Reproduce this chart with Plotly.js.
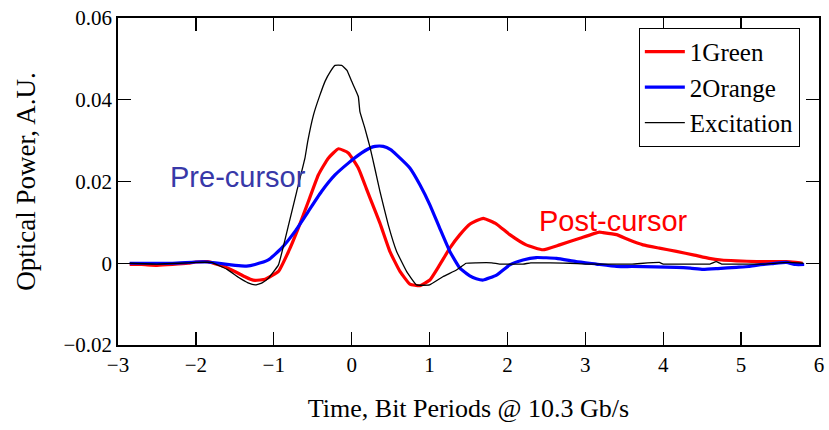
<!DOCTYPE html>
<html>
<head>
<meta charset="utf-8">
<script src="https://cdn.plot.ly/plotly-3.0.1.min.js"></script>
<style>html,body{margin:0;padding:0;background:#fff;}#chart{width:829px;height:430px;}</style>
</head>
<body>
<div id="chart"></div>
<script>
// Excitation (black)
const excX = [-2.85,-2.5,-2.2,-2.0,-1.8,-1.6,-1.45,-1.33,-1.24,-1.15,-1.07,-0.94,-0.81,-0.705,-0.6,-0.564,-0.49,-0.41,-0.342,-0.27,-0.214,-0.128,-0.06,0.0,0.085,0.106,0.17,0.235,0.3,0.363,0.47,0.577,0.705,0.833,1.0,1.17,1.35,1.47,1.6,1.8,1.9,2.2,2.3,2.8,3.0,3.3,3.6,3.95,4.0,4.3,4.6,4.68,4.75,5.0,5.3,5.6,5.8];
const excY = [0,-0.0002,0,0.0002,0.0002,-0.0015,-0.0035,-0.0048,-0.0053,-0.0048,-0.0037,-0.0004,0.0094,0.0176,0.0257,0.0298,0.0363,0.041,0.0445,0.047,0.0484,0.0484,0.0472,0.0445,0.0408,0.0371,0.033,0.0284,0.023,0.0176,0.0094,0.0029,-0.002,-0.0053,-0.0053,-0.0033,-0.0016,0,0.0001,0.0001,-0.0002,-0.0002,0.0001,0,-0.0002,-0.0002,-0.0002,0.0002,-0.0002,-0.0002,-0.0002,0.0004,-0.0002,-0.0002,-0.0002,0.0002,0];

// 1Green (red)
const grnX = [-2.85,-2.7,-2.5,-2.3,-2.1,-2.0,-1.85,-1.72,-1.586,-1.45,-1.37,-1.3,-1.24,-1.11,-0.94,-0.81,-0.685,-0.556,-0.428,-0.3,-0.17,-0.043,0.085,0.19,0.235,0.363,0.49,0.62,0.747,0.876,1.004,1.13,1.26,1.39,1.52,1.6,1.69,1.86,2.03,2.24,2.456,2.67,2.93,3.18,3.226,3.4,3.55,3.74,3.95,4.17,4.4,4.59,4.75,4.94,5.2,5.58,5.7,5.79];
const grnY = [-0.0003,-0.0003,-0.0005,-0.0003,0,0.0003,0.0004,-0.0003,-0.0012,-0.0025,-0.0033,-0.0039,-0.0042,-0.0039,-0.002,0.0029,0.0086,0.0151,0.0216,0.0257,0.028,0.027,0.0233,0.0182,0.016,0.0098,0.0029,-0.002,-0.0051,-0.0055,-0.0041,-0.0004,0.0037,0.007,0.0096,0.0104,0.011,0.0096,0.007,0.0045,0.0033,0.0045,0.0061,0.0076,0.0075,0.007,0.0058,0.0045,0.0037,0.0029,0.002,0.0012,0.0008,0.0006,0.0004,0.0004,0.0002,0];

// 2Orange (blue)
const orgX = [-2.85,-2.6,-2.3,-2.0,-1.85,-1.7,-1.55,-1.45,-1.35,-1.24,-1.07,-0.9,-0.727,-0.556,-0.385,-0.214,-0.043,0.128,0.235,0.3,0.405,0.5,0.577,0.747,0.876,1.004,1.13,1.26,1.39,1.517,1.6,1.69,1.86,2.03,2.2,2.37,2.63,2.88,3.14,3.4,3.6,3.9,4.17,4.35,4.51,4.7,4.94,5.1,5.23,5.4,5.58,5.7,5.81];
const orgY = [0,0,0,0.0003,0.0003,0,-0.0004,-0.0006,-0.0007,-0.0003,0.0008,0.0037,0.0078,0.0127,0.0176,0.0216,0.0245,0.027,0.0282,0.0286,0.0286,0.0278,0.0265,0.0233,0.0192,0.0143,0.0086,0.0029,-0.0012,-0.0031,-0.0038,-0.0041,-0.0029,-0.0004,0.0008,0.0014,0.0012,0.0004,-0.0002,-0.0008,-0.0008,-0.0009,-0.001,-0.0012,-0.0015,-0.0013,-0.001,-0.0008,-0.0004,-0.0001,0.0002,-0.0003,-0.0003];

const seriesNames = ['1Green','2Orange','Excitation'];
const xTicks = [-3,-2,-1,0,1,2,3,4,5,6];
const yTicks = [-0.02,0,0.02,0.04,0.06];

const traces = [
  {x: grnX, y: grnY, name: seriesNames[0], mode: 'lines', line: {color: '#ff0000', width: 3.2, shape: 'spline', smoothing: 0.4}},
  {x: orgX, y: orgY, name: seriesNames[1], mode: 'lines', line: {color: '#0000ff', width: 3.2, shape: 'spline', smoothing: 0.4}},
  {x: excX, y: excY, name: seriesNames[2], mode: 'lines', line: {color: '#000000', width: 1.3, shape: 'spline', smoothing: 0.3}}
];

const serif = '"Liberation Serif", "Times New Roman", serif';
const layout = {
  width: 829, height: 430,
  margin: {l: 118, r: 10, t: 18, b: 85},
  paper_bgcolor: '#ffffff', plot_bgcolor: '#ffffff',
  showlegend: true,
  legend: {x: 0.743, y: 0.97, xanchor: 'left', yanchor: 'top',
    bordercolor: '#000', borderwidth: 1, bgcolor: '#fff',
    font: {family: serif, size: 25, color: '#000'}, tracegroupgap: 0, itemwidth: 40},
  xaxis: {range: [-3, 6], tickvals: xTicks, ticks: 'inside', ticklen: 13, tickwidth: 1.3,
    tickcolor: '#000', showline: true, linecolor: '#000', linewidth: 1.8, mirror: 'ticks',
    showgrid: false, zeroline: false,
    tickfont: {family: serif, size: 21, color: '#000'},
    title: {text: 'Time, Bit Periods @ 10.3 Gb/s', font: {family: serif, size: 26, color: '#000'}, standoff: 23}},
  yaxis: {range: [-0.02, 0.06], tickvals: yTicks, ticks: 'inside', ticklen: 13, tickwidth: 1.3,
    tickcolor: '#000', showline: true, linecolor: '#000', linewidth: 1.8, mirror: 'ticks',
    showgrid: false, zeroline: false,
    tickfont: {family: serif, size: 21, color: '#000'},
    title: {text: 'Optical Power, A.U.', font: {family: serif, size: 27, color: '#000'}, standoff: 20}},
  annotations: [
    {x: -1.464, y: 0.0212, xref: 'x', yref: 'y', text: 'Pre-cursor', showarrow: false,
     font: {family: '"Liberation Sans", Arial, sans-serif', size: 29, color: '#3838a8'}},
    {x: 3.363, y: 0.0104, xref: 'x', yref: 'y', text: 'Post-cursor', showarrow: false,
     font: {family: '"Liberation Sans", Arial, sans-serif', size: 29, color: '#ff0000'}}
  ]
};

Plotly.newPlot('chart', traces, layout, {staticPlot: true, displayModeBar: false});
</script>
</body>
</html>
